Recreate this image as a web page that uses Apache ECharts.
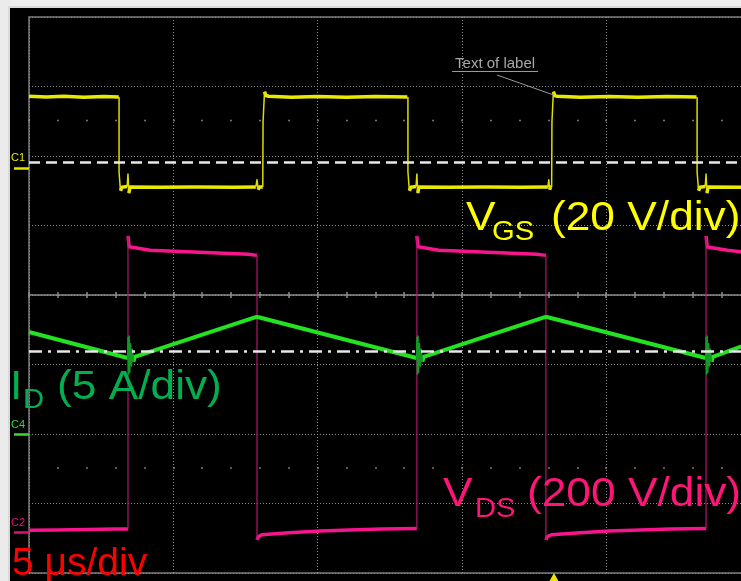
<!DOCTYPE html>
<html><head><meta charset="utf-8">
<script src="https://cdn.jsdelivr.net/npm/echarts@6/dist/echarts.min.js"></script>
<style>html,body{margin:0;padding:0;background:#000;overflow:hidden}#c{width:741px;height:581px}</style>
</head><body><div id="c"></div>
<script>
// ---------------- data (time in µs, values in channel units) ----------------
const timePerDiv = 5;          // 5 µs/div
const timeDivs = 10;           // full scope screen width in divisions
const vertDivs = 8;

const vgsPerDiv = 20;          // V/div
const vgsZeroDiv = 2.17;       // ground marker, divisions below top edge
const idPerDiv = 5;            // A/div
const idZeroDiv = 6.0;
const vdsPerDiv = 200;         // V/div
const vdsZeroDiv = 7.41;

// Gate-source voltage VGS [t (µs), V]
const vgsTrace = [
  [0.00, 20.6], [0.60, 20.4], [1.20, 20.6], [1.90, 20.3], [2.60, 20.5], [3.11, 20.4],
  [3.12, 20.4], [3.12, -1.2], [3.17, -6.6], [3.22, -5.6], [3.40, -5.4], [3.43, -1.8], [3.46, -7.3], [3.50, -5.5],
  [4.50, -5.6], [5.80, -5.5], [7.10, -5.6], [7.86, -5.5], [7.90, -3.4], [7.94, -6.3], [7.98, -5.5], [8.10, -5.5],
  [8.11, 13.2], [8.16, 21.9], [8.21, 20.8], [8.30, 20.6], [9.10, 20.3], [10.0, 20.5], [11.0, 20.3], [12.0, 20.5], [13.11, 20.4],
  [13.13, 20.4], [13.13, -1.2], [13.18, -6.6], [13.23, -5.6], [13.41, -5.4], [13.44, -1.8], [13.47, -7.3], [13.51, -5.5],
  [14.5, -5.6], [15.8, -5.5], [17.0, -5.6], [17.98, -5.5], [18.01, -3.4], [18.04, -6.3], [18.07, -5.5], [18.11, -5.5],
  [18.12, 13.2], [18.17, 21.9], [18.22, 20.8], [18.30, 20.6], [19.1, 20.3], [20.1, 20.5], [21.1, 20.3], [22.1, 20.5], [23.13, 20.4],
  [23.15, 20.4], [23.15, -1.2], [23.20, -6.6], [23.25, -5.6], [23.43, -5.4], [23.46, -1.8], [23.49, -7.3], [23.53, -5.5],
  [24.70, -5.6]
];

// Drain current ID [t (µs), A]
const idTrace = [
  [0.00, 7.34], [3.42, 5.47],
  [3.43, 6.95], [3.45, 4.30], [3.47, 7.05], [3.49, 4.45], [3.52, 6.50], [3.55, 4.90], [3.58, 6.10], [3.62, 5.20], [3.66, 5.55], [3.72, 5.62],
  [7.88, 8.42], [7.92, 8.56], [7.96, 8.40],
  [13.43, 5.47],
  [13.44, 6.95], [13.46, 4.30], [13.48, 7.05], [13.50, 4.45], [13.53, 6.50], [13.56, 4.90], [13.59, 6.10], [13.63, 5.20], [13.67, 5.55], [13.73, 5.62],
  [17.90, 8.42], [17.94, 8.56], [17.98, 8.40],
  [23.45, 5.47],
  [23.46, 6.95], [23.48, 4.30], [23.50, 7.05], [23.52, 4.45], [23.55, 6.50], [23.58, 4.90], [23.61, 6.10], [23.65, 5.20], [23.69, 5.55], [23.75, 5.62],
  [24.70, 6.30]
];

// Drain-source voltage VDS [t (µs), V]
const vdsTrace = [
  [0.00, 5], [1.00, 6], [2.00, 7.5], [3.00, 8.5], [3.43, 8.6],
  [3.43, 852], [3.47, 821], [4.20, 811], [5.90, 805], [7.60, 799], [7.90, 796],
  [7.90, -23], [7.94, -14], [8.07, -8], [9.00, -2], [10.1, 3], [11.1, 6], [12.2, 8.5], [13.44, 10],
  [13.44, 852], [13.48, 821], [14.2, 811], [15.9, 805], [17.6, 799], [17.91, 796],
  [17.91, -23], [17.95, -14], [18.1, -8], [19.1, -2], [20.1, 3], [21.2, 6], [22.2, 8.5], [23.46, 10],
  [23.46, 852], [23.50, 820], [24.2, 811], [24.7, 806]
];

const vgsRefLevel = 1.67;      // dashed white reference (VGS axis)
const idRefLevel = 5.97;       // dash-dot white reference (ID axis)
const triggerTime = 18.19;     // trigger marker at the bottom
const labelText = 'Text of label';
const labelUnderline = [[14.66, 27.86], [17.64, 27.86]];
const labelLeader = [[16.22, 26.7], [18.16, 21.0]];

const channelNames = ['C1', 'C4', 'C2'];
const titleTexts = {
  vgs: ['V', 'GS', '(20 V/div)'],
  id: ['I', 'D', '(5 A/div)'],
  vds: ['V', 'DS', '(200 V/div)'],
  time: '5 μs/div'
};

// ---------------- helpers ----------------
function splitTrace(points, slopeLimit) {
  const flat = [], steep = [];
  for (let i = 0; i < points.length - 1; i++) {
    const [t0, v0] = points[i], [t1, v1] = points[i + 1];
    const dt = t1 - t0;
    const isSteep = dt === 0 || Math.abs((v1 - v0) / dt) > slopeLimit;
    const target = isSteep ? steep : flat;
    const last = target[target.length - 1];
    if (!last || last[0] !== t0 || last[1] !== v0) {
      if (last) target.push([t0, '-']);
      target.push([t0, v0]);
    }
    target.push([t1, v1]);
  }
  return { flat, steep };
}
function chanAxis(perDiv, zeroDiv, name, color) {
  return {
    type: 'value', gridIndex: 0, position: 'left',
    min: -(vertDivs - zeroDiv) * perDiv, max: zeroDiv * perDiv,
    axisLine: { show: false, onZero: false }, splitLine: { show: false },
    axisTick: { show: true, customValues: [0], length: 15, lineStyle: { color: color, width: 2.5 } },
    axisLabel: { show: true, customValues: [0], formatter: () => name, color: color,
      fontSize: 11, fontFamily: 'Liberation Sans', align: 'left', verticalAlign: 'bottom',
      margin: 18, padding: [0, 0, 4, 0], textBorderColor: '#000', textBorderWidth: 0.5 }
  };
}
const hiddenY = (mn, mx) => ({ type: 'value', min: mn, max: mx, show: true,
  axisLine: { show: false, onZero: false }, axisTick: { show: false }, axisLabel: { show: false }, splitLine: { show: false } });

const vgsS = splitTrace(vgsTrace, 50);
const idS = splitTrace(idTrace, 10);
const vdsS = splitTrace(vdsTrace, 2000);

const GRAY = '#8a8a8a';
const FONT = 'Liberation Sans';

const xMax = timePerDiv * timeDivs;
const baseX = { type: 'value', min: 0, max: xMax, axisLabel: { show: false }, splitLine: { show: false } };

const lineS = (data, yIdx, color, width, z) => ({
  type: 'line', xAxisIndex: 0, yAxisIndex: yIdx, data: data, showSymbol: false, symbol: 'none',
  connectNulls: false, lineStyle: { color: color, width: width, join: 'round' }, z: z, silent: true, animation: false
});

function txt(s, x, baseline, size, color, sx) {
  // text top is placed so that the alphabetic baseline lands on 'baseline'
  return { type: 'text', x: x, y: baseline - 0.8465 * size, scaleX: sx == null ? 1.08 : sx, z: 60, silent: true,
    style: { text: s, fontSize: size, fontFamily: FONT, fill: color,
      align: 'left', verticalAlign: 'top', textAlign: 'left', textVerticalAlign: 'top' } };
}

const option = {
  animation: false,
  backgroundColor: '#000',
  grid: { left: 29, top: 17, width: 1443, height: 556, show: true, borderColor: '#7d7d7d', borderWidth: 1.5,
    backgroundColor: 'transparent', containLabel: false, outerBoundsMode: 'none' },
  xAxis: [
    Object.assign({}, baseX, { interval: timePerDiv, position: 'bottom',
      axisLine: { show: false, onZero: false }, axisTick: { show: false },
      splitLine: { show: true, lineStyle: { color: GRAY, type: [1, 2], width: 1 } } }),
    Object.assign({}, baseX, { interval: timePerDiv / 5, position: 'bottom',
      axisLine: { show: true, onZero: true, onZeroAxisIndex: 0, lineStyle: { color: '#8f8f8f', width: 1.5 } },
      axisTick: { show: true, inside: false, length: 3, lineStyle: { color: '#8f8f8f', width: 1.5 } } }),
    Object.assign({}, baseX, { interval: timePerDiv / 5, position: 'bottom',
      axisLine: { show: false, onZero: true, onZeroAxisIndex: 0 },
      axisTick: { show: true, inside: true, length: 3, lineStyle: { color: '#8f8f8f', width: 1.5 } } }),
    Object.assign({}, baseX, { interval: timePerDiv / 5, position: 'bottom',
      axisLine: { show: false, onZero: true, onZeroAxisIndex: 4 },
      axisTick: { show: true, inside: true, length: 1.5, lineStyle: { color: '#9a9a9a', width: 1.5 } } }),
    Object.assign({}, baseX, { interval: timePerDiv / 5, position: 'bottom',
      axisLine: { show: false, onZero: true, onZeroAxisIndex: 5 },
      axisTick: { show: true, inside: true, length: 1.5, lineStyle: { color: '#9a9a9a', width: 1.5 } } })
  ],
  yAxis: [
    { type: 'value', min: -vertDivs / 2, max: vertDivs / 2, interval: 1,
      axisLine: { show: false, onZero: false }, axisTick: { show: false }, axisLabel: { show: false },
      splitLine: { show: true, lineStyle: { color: GRAY, type: [1, 2], width: 1 } } },
    chanAxis(vgsPerDiv, vgsZeroDiv, channelNames[0], '#e6e600'),
    chanAxis(idPerDiv, idZeroDiv, channelNames[1], '#33dd33'),
    chanAxis(vdsPerDiv, vdsZeroDiv, channelNames[2], '#e0107a'),
    hiddenY(-6.5, 1.5),
    hiddenY(-1.5, 6.5)
  ],
  series: [
    lineS(vdsS.flat, 3, '#f7148c', 3.5, 2),
    lineS(vdsS.steep, 3, '#b3166b', 1.2, 2),
    Object.assign(lineS(idS.flat, 2, '#22e222', 4, 3), {
      markLine: { silent: true, symbol: 'none', animation: false, label: { show: false },
        lineStyle: { color: '#e8e8e8', width: 2.5, type: [13, 6, 3, 6] },
        data: [{ yAxis: idRefLevel }] }
    }),
    lineS(idS.steep, 2, '#139a26', 1.5, 3),
    Object.assign(lineS(vgsS.flat, 1, '#eaea00', 3.5, 4), {
      markLine: { silent: true, symbol: 'none', animation: false,
        data: [
          { yAxis: vgsRefLevel, label: { show: false }, lineStyle: { color: '#e8e8e8', width: 2.5, type: [11, 6] } },
          [{ coord: labelUnderline[0], label: { show: true, formatter: labelText, position: 'insideMiddleTop',
              distance: 0, color: '#a8a8a8', fontSize: 15, fontFamily: FONT },
             lineStyle: { color: '#9a9a9a', width: 1, type: 'solid' } },
           { coord: labelUnderline[1] }],
          [{ coord: labelLeader[0], label: { show: false }, lineStyle: { color: '#9a9a9a', width: 1, type: 'solid' } },
           { coord: labelLeader[1] }]
        ] },
      markPoint: { silent: true, animation: false, label: { show: false },
        data: [{ coord: [triggerTime, -(vertDivs - vgsZeroDiv) * vgsPerDiv], symbol: 'triangle',
          symbolSize: [10, 9], symbolOffset: [0, 4.5], itemStyle: { color: '#f2e600' } }] }
    }),
    lineS(vgsS.steep, 1, '#dede00', 1.5, 4)
  ],
  graphic: [
    { type: 'rect', shape: { x: 0, y: 0, width: 741, height: 8 }, style: { fill: '#eeeeee' }, z: 50 },
    { type: 'rect', shape: { x: 0, y: 0, width: 10, height: 581 }, style: { fill: '#ebebeb' }, z: 50 },
    { type: 'rect', shape: { x: 8, y: 6, width: 733, height: 2 }, style: { fill: '#d9d9d9' }, z: 50 },
    { type: 'rect', shape: { x: 8, y: 6, width: 2, height: 575 }, style: { fill: '#d9d9d9' }, z: 50 },
    // VGS
    txt(titleTexts.vgs[0], 466, 233, 41, '#ffff00'),
    txt(titleTexts.vgs[1], 492, 242, 27, '#ffff00'),
    txt(titleTexts.vgs[2], 551, 233, 41, '#ffff00'),
    // ID
    txt(titleTexts.id[0], 10, 402, 41, '#00b050'),
    txt(titleTexts.id[1], 23, 410, 27, '#00b050'),
    txt(titleTexts.id[2], 57, 402, 41, '#00b050'),
    // VDS
    txt(titleTexts.vds[0], 443, 509, 41, '#ff1478'),
    txt(titleTexts.vds[1], 475, 519, 27, '#ff1478'),
    txt(titleTexts.vds[2], 527, 509, 41, '#ff1478'),
    txt(titleTexts.time, 12, 578, 39, '#ff0000', 1.0)
  ]
};
const chart = echarts.init(document.getElementById('c'), null, { renderer: 'canvas' });
chart.setOption(option);
</script></body></html>
